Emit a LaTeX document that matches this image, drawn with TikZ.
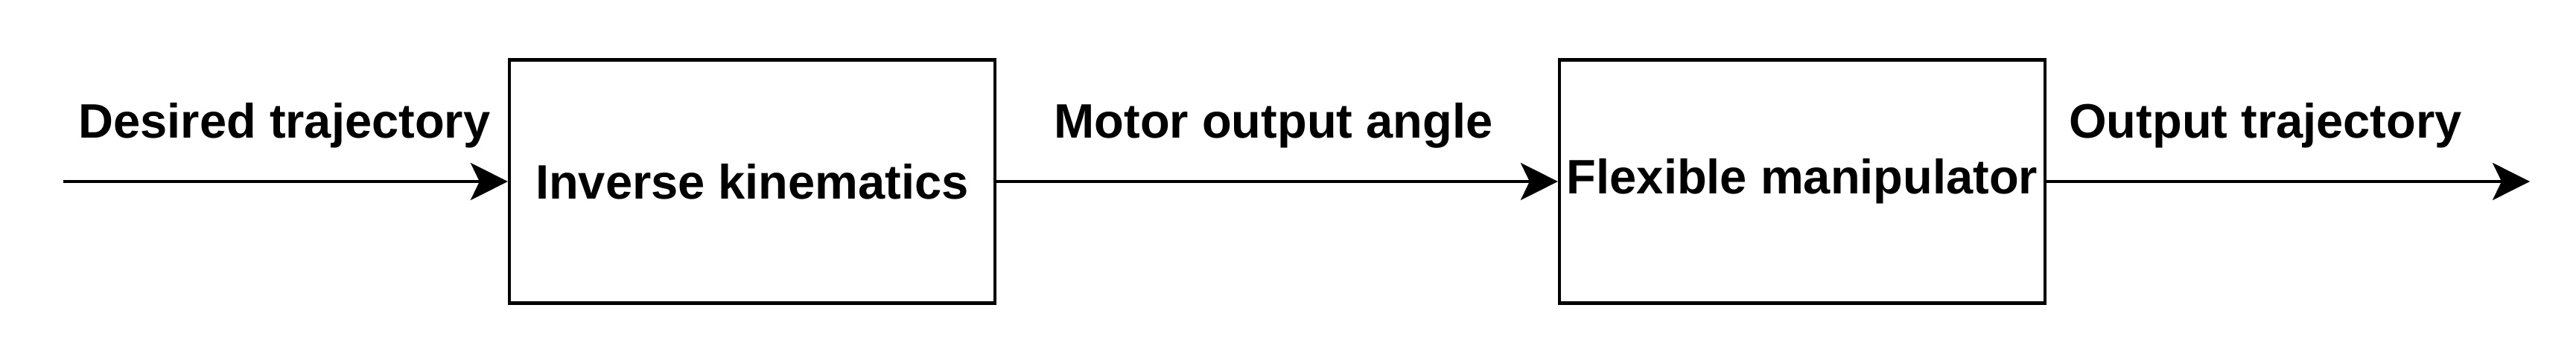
\documentclass[tikz,border=0pt]{standalone}
\usepackage{fontspec}
\setmainfont{Liberation Sans}
\usepackage{tikz}
\usetikzlibrary{calc,arrows.meta}
\tikzstyle{blockbox}=[rectangle,draw=black,fill=white,line width=1.2pt,
                      minimum width=6.52cm,minimum height=3.27cm,
                      font=\fontsize{18.5}{20}\selectfont\bfseries,inner sep=0pt]
\tikzstyle{signallabel}=[anchor=base,inner sep=0pt,
                      font=\fontsize{18.5}{20}\selectfont\bfseries]
\tikzstyle{signal}=[line width=1.2pt,-{Stealth[length=0.5cm,width=0.5cm,inset=0.12cm]}]
\newcommand\arrowrow{-2.44}
\newcommand\labelrow{-1.85}

\begin{document}
\begin{tikzpicture}
	\useasboundingbox (0,0) rectangle (34.59,-4.88);
	\coordinate (entrada) at (0.85,\arrowrow);
	\coordinate (salida) at (33.97,\arrowrow);
	\node [blockbox] (cinematica) at (10.10,\arrowrow) {Inverse kinematics};
	\node [blockbox] (manipulador) at (24.20,\arrowrow) {Flexible manipulator};
	\node [signallabel] (deseada) at (3.82,\labelrow) {Desired trajectory};
	\node [signallabel] (angulo) at (17.10,\labelrow) {Motor output angle};
	\node [signallabel] (obtenida) at (30.42,\labelrow) {Output trajectory};
	\draw [signal] (entrada) -- (cinematica);
	\draw [signal] (cinematica) -- (manipulador);
	\draw [signal] (manipulador) -- (salida);
\end{tikzpicture}
\end{document}
